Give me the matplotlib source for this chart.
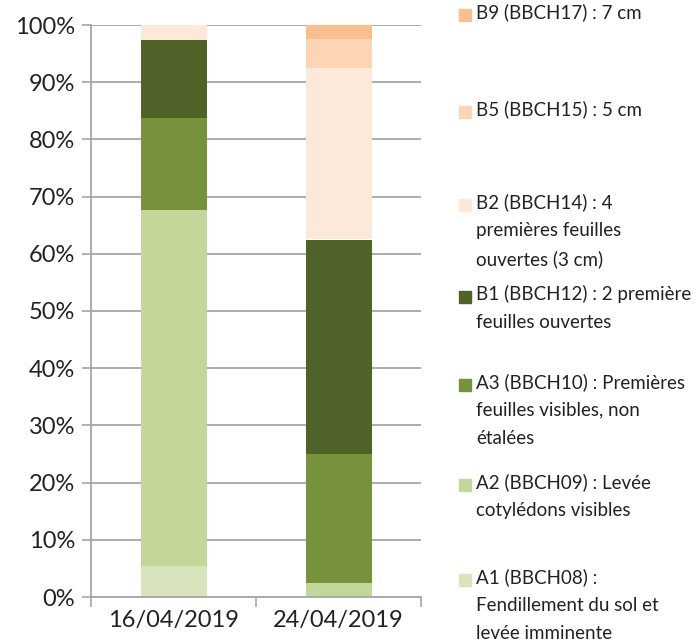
import numpy as np
import matplotlib
matplotlib.use("Agg")
import matplotlib.pyplot as plt
from matplotlib.patches import Rectangle

plt.rcParams['font.family'] = ['Lato', 'DejaVu Sans']

# dates of observation
dates = ["16/04/2019", "24/04/2019"]

# share of plants per stage (%), bottom to top
stages = ["A1", "A2", "A3", "B1", "B2", "B5", "B9"]
a1 = [5.4, 0.0]
a2 = [62.2, 2.5]
a3 = [16.2, 22.5]
b1 = [13.5, 37.5]
b2 = [2.7, 30.0]
b5 = [0.0, 5.0]
b9 = [0.0, 2.5]

labels = [
    "A1 (BBCH08) :\nFendillement du sol et\nlevée imminente",
    "A2 (BBCH09) : Levée\ncotylédons visibles",
    "A3 (BBCH10) : Premières\nfeuilles visibles, non\nétalées",
    "B1 (BBCH12) : 2 première\nfeuilles ouvertes",
    "B2 (BBCH14) : 4\npremières feuilles\nouvertes (3 cm)",
    "B5 (BBCH15) : 5 cm",
    "B9 (BBCH17) : 7 cm",
]
colors = ["#d8e4bc", "#c4d79b", "#76923c", "#4f6228", "#fde9d9", "#fcd5b4", "#fabf8f"]
series = [a1, a2, a3, b1, b2, b5, b9]

W, H = 699, 644
fig = plt.figure(figsize=(W / 100, H / 100), dpi=100)
ax = fig.add_axes([91 / W, 1 - 597 / H, (421 - 91) / W, (597 - 25) / H])

x = np.arange(len(dates))
bottom = np.zeros(len(dates))
for vals, col in zip(series, colors):
    ax.bar(x, vals, width=0.4, bottom=bottom, color=col, zorder=2)
    bottom += np.array(vals)

ax.set_xlim(-0.5, 1.5)
ax.set_ylim(0, 100)
ax.set_yticks(np.arange(0, 101, 10))
ax.set_yticklabels([f"{v}%" for v in range(0, 101, 10)], fontsize=17, color="#222222")
ax.set_xticks(x)
ax.set_xticklabels(dates, fontsize=17, color="#222222")
ax.tick_params(axis="x", length=0, pad=9)
ax.set_xticks([-0.5, 0.5, 1.5], minor=True)
ax.tick_params(axis="x", which="minor", length=7, color="#a6a6a6", width=1.2)
ax.tick_params(axis="y", length=6.5, color="#a6a6a6", width=1.2, pad=5)
ax.grid(axis="y", color="#a6a6a6", lw=1.3, zorder=0)
for s in ["top", "right"]:
    ax.spines[s].set_visible(False)
for s in ["left", "bottom"]:
    ax.spines[s].set_color("#a6a6a6")
    ax.spines[s].set_linewidth(1.3)

# legend drawn by hand, top entry first
legend_y = [15, 112, 205, 297, 385, 485, 580]
for i, (lab, col) in enumerate(zip(labels[::-1], colors[::-1])):
    yp = legend_y[i]
    fig.patches.append(Rectangle((459 / W, 1 - (yp + 6) / H), 12 / W, 12 / H,
                                 transform=fig.transFigure, color=col))
    fig.text(476 / W, 1 - (yp - 12) / H, lab, fontsize=13.5, va="top", ha="left",
             color="#222222", linespacing=1.78)

fig.savefig("out.png", dpi=100)
